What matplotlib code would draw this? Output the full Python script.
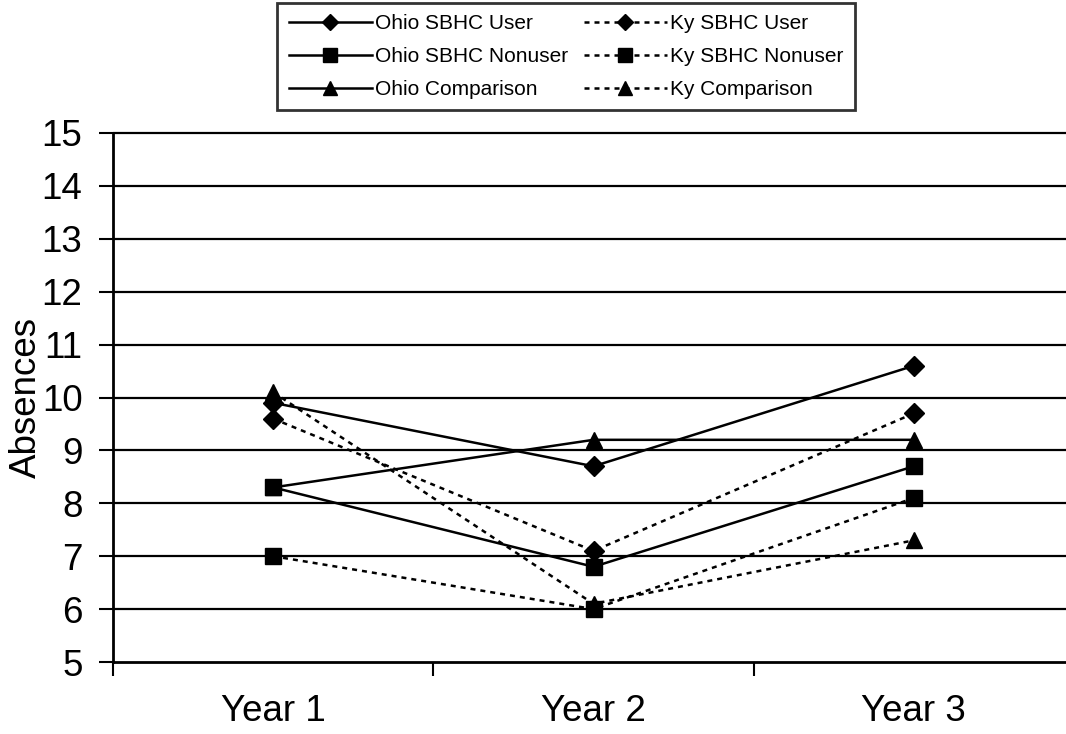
import matplotlib.pyplot as plt
import matplotlib
import numpy as np

matplotlib.rcParams['font.family'] = ['Liberation Sans', 'DejaVu Sans']

# Data
years = ['Year 1', 'Year 2', 'Year 3']
ohio_user = [9.9, 8.7, 10.6]
ohio_nonuser = [8.3, 6.8, 8.7]
ohio_comparison = [8.3, 9.2, 9.2]
ky_user = [9.6, 7.1, 9.7]
ky_nonuser = [7.0, 6.0, 8.1]
ky_comparison = [10.1, 6.1, 7.3]

fig = plt.figure(figsize=(10.66, 7.34), dpi=100)
ax = fig.add_axes([113 / 1066, 72 / 734, 961 / 1066, 529 / 734])

x = np.arange(len(years))

# Gridlines
ax.hlines(range(6, 16), -0.5, 2.5, color='black', lw=1.6, zorder=1, clip_on=False)

series = [
    ('Ohio SBHC User', ohio_user, '-', 'D', 10),
    ('Ky SBHC User', ky_user, '--', 'D', 10),
    ('Ohio SBHC Nonuser', ohio_nonuser, '-', 's', 12),
    ('Ky SBHC Nonuser', ky_nonuser, '--', 's', 12),
    ('Ohio Comparison', ohio_comparison, '-', '^', 12),
    ('Ky Comparison', ky_comparison, '--', '^', 12),
]

handles = {}
for name, vals, ls, mk, ms in series:
    line, = ax.plot(x, vals, color='black', lw=1.8, linestyle=ls, marker=mk,
                    markersize=ms, label=name, zorder=3)
    if ls == '--':
        line.set_dashes((2, 2))
    handles[name] = line

ax.set_xlim(-0.5, 2.5)
ax.set_ylim(5, 15)
ax.set_yticks(range(5, 16))
ax.tick_params(axis='y', labelsize=26.5, length=10, width=1.5, direction='out', pad=12)

ax.set_xticks([-0.5, 0.5, 1.5, 2.5])
ax.set_xticklabels([])
ax.set_xticks(x, minor=True)
ax.set_xticklabels(years, minor=True)
ax.tick_params(axis='x', which='major', length=10, width=1.5, direction='out')
ax.tick_params(axis='x', which='minor', length=0, labelsize=26.5, pad=23)

for side in ['top', 'right']:
    ax.spines[side].set_visible(False)
ax.spines['left'].set_linewidth(2)
ax.spines['bottom'].set_linewidth(2)

ax.set_ylabel('Absences', fontsize=26.5, labelpad=-2)

order = ['Ohio SBHC User', 'Ohio SBHC Nonuser', 'Ohio Comparison',
         'Ky SBHC User', 'Ky SBHC Nonuser', 'Ky Comparison']
leg = fig.legend([handles[n] for n in order], order, ncol=2,
                 loc='upper center', bbox_to_anchor=(0.531, 0.996),
                 borderaxespad=0,
                 fontsize=15, frameon=True, fancybox=False, edgecolor='black',
                 handlelength=4.0, columnspacing=0.75, handletextpad=0.15,
                 borderpad=0.55, labelspacing=0.66, markerscale=0.8)
leg.get_frame().set_linewidth(2)

fig.savefig('out.png', dpi=100)
